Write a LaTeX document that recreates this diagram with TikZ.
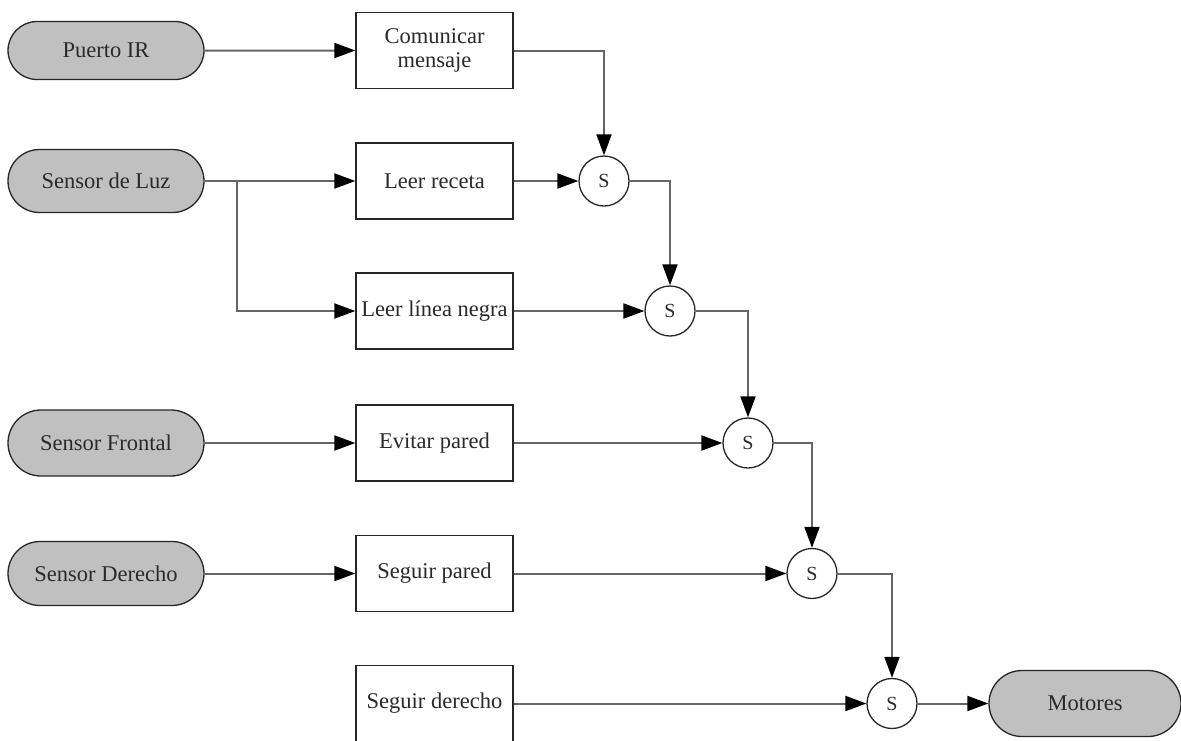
\documentclass[tikz,border=0pt]{standalone}
\usepackage{fontspec}
\setmainfont{Liberation Serif}
\usetikzlibrary{shapes.misc,arrows.meta}
\definecolor{linegray}{HTML}{666666}
\definecolor{pillgray}{HTML}{C0C0C0}
\definecolor{txtgray}{HTML}{2A2A2A}
\tikzset{
  base/.style={draw=black!85, line width=1.3pt, text=txtgray, inner sep=0pt,
    font=\fontsize{22.5}{24.5}\selectfont, align=center},
  pill/.style={base, rounded rectangle, fill=pillgray, minimum width=196pt, minimum height=62pt},
  taskbox/.style={base, rectangle, fill=white, minimum width=157pt, minimum height=76pt},
  sumnode/.style={base, circle, fill=white, minimum size=50pt, font=\fontsize{20}{22}\selectfont},
  conn/.style={draw=linegray, line width=2pt, -{Triangle[length=21pt,width=15pt,fill=black,color=black]}},
  plain/.style={draw=linegray, line width=2pt}
}
\begin{document}
\begin{tikzpicture}[x=1pt,y=-1pt]
\useasboundingbox (0,0) rectangle (1181,740);
% sensors
\node[pill, minimum height=58pt] (pi) at (106,50.5) {Puerto IR};
\node[pill, minimum height=63pt] (sl) at (106,181) {Sensor de Luz};
\node[pill, minimum height=66pt] (sf) at (106,443) {Sensor Frontal};
\node[pill, minimum height=64pt] (sd) at (106,573.5) {Sensor Derecho};
\node[pill, minimum width=192pt, minimum height=66pt] (mo) at (1085,703.5) {Motores};
% tasks
\node[taskbox] (cm) at (434.5,50.5) {Comunicar\\mensaje};
\node[taskbox] (lr) at (434.5,181) {Leer receta};
\node[taskbox] (ll) at (434.5,311) {Leer línea negra};
\node[taskbox] (ev) at (434.5,443) {Evitar pared};
\node[taskbox] (sp) at (434.5,573.5) {Seguir pared};
\node[taskbox] (sg) at (434.5,703.5) {Seguir derecho};
% suppressors
\node[sumnode] (s1) at (604,181) {S};
\node[sumnode] (s2) at (670,311) {S};
\node[sumnode] (s3) at (748,443) {S};
\node[sumnode] (s4) at (812,573.5) {S};
\node[sumnode] (s5) at (892,703.5) {S};
\coordinate (br) at (237,181);
% connectors
\draw[conn] (pi) -- (cm);
\draw[conn] (sl.east |- lr.west) -- (lr.west);
\draw[conn] (br) |- (ll.west);
\draw[conn] (sf.east |- ev.west) -- (ev.west);
\draw[conn] (sd.east |- sp.west) -- (sp.west);
\draw[conn] (cm.east) -| (s1.north);
\draw[conn] (lr) -- (s1);
\draw[conn] (s1.east) -| (s2.north);
\draw[conn] (ll) -- (s2);
\draw[conn] (s2.east) -| (s3.north);
\draw[conn] (ev) -- (s3);
\draw[conn] (s3.east) -| (s4.north);
\draw[conn] (sp) -- (s4);
\draw[conn] (s4.east) -| (s5.north);
\draw[conn] (sg) -- (s5);
\draw[conn] (s5) -- (mo);
\end{tikzpicture}
\end{document}
